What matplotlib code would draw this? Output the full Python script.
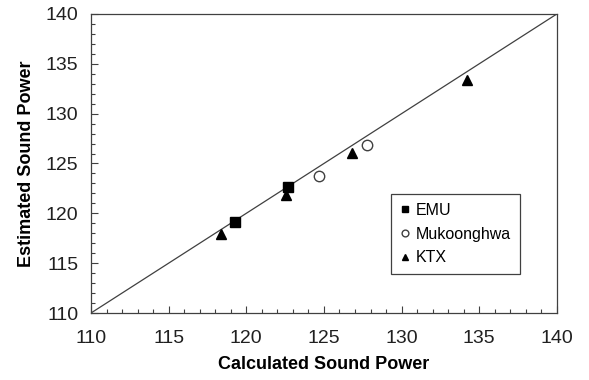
import matplotlib.pyplot as plt
from matplotlib.ticker import MultipleLocator

plt.rcParams['font.family'] = ['Liberation Sans', 'DejaVu Sans']

# data
emu_x = [119.25, 122.7]
emu_y = [119.1, 122.6]
muk_x = [124.7, 127.75]
muk_y = [123.7, 126.85]
ktx_x = [118.35, 122.55, 126.8, 134.2]
ktx_y = [117.95, 121.85, 126.1, 133.4]
ref_line = [110, 140]

fig = plt.figure(figsize=(5.89, 3.80), dpi=100)
ax = fig.add_axes([0.1545, 0.1763, 0.791, 0.787])

ax.plot(ref_line, ref_line, color='#404040', lw=0.9, zorder=1)
ax.plot(emu_x, emu_y, 's', color='black', ms=6.5, ls='none', label='EMU', zorder=3)
ax.plot(muk_x, muk_y, 'o', mfc='white', mec='#404040', mew=1.0, ms=7.5, ls='none',
        label='Mukoonghwa', zorder=3)
ax.plot(ktx_x, ktx_y, '^', color='black', ms=7.5, ls='none', label='KTX', zorder=3)

ax.set_xlim(110, 140)
ax.set_ylim(110, 140)
ax.xaxis.set_major_locator(MultipleLocator(5))
ax.yaxis.set_major_locator(MultipleLocator(5))
ax.xaxis.set_minor_locator(MultipleLocator(1))
ax.yaxis.set_minor_locator(MultipleLocator(1))
ax.tick_params(which='both', direction='in', top=False, right=False, labelsize=14,
               color='#404040', labelcolor='#202020')
ax.tick_params(which='major', length=5, width=0.8)
ax.tick_params(which='minor', length=3, width=0.8)
ax.tick_params(axis='x', pad=12)
ax.tick_params(axis='y', pad=9)
for s in ax.spines.values():
    s.set_color('#404040')
    s.set_linewidth(0.9)

ax.set_xlabel('Calculated Sound Power', fontsize=13, fontweight='bold', labelpad=7)
ax.set_ylabel('Estimated Sound Power', fontsize=13, fontweight='bold', labelpad=8)

leg = ax.legend(loc='upper left', bbox_to_anchor=(0.643, 0.398), fontsize=11.5,
                markerscale=0.65, handlelength=0.7, handletextpad=0.35,
                labelspacing=0.55, borderpad=0.55, borderaxespad=0, fancybox=False,
                framealpha=1, edgecolor='#404040')
leg.get_frame().set_linewidth(0.9)

fig.savefig('out.png', dpi=100)
